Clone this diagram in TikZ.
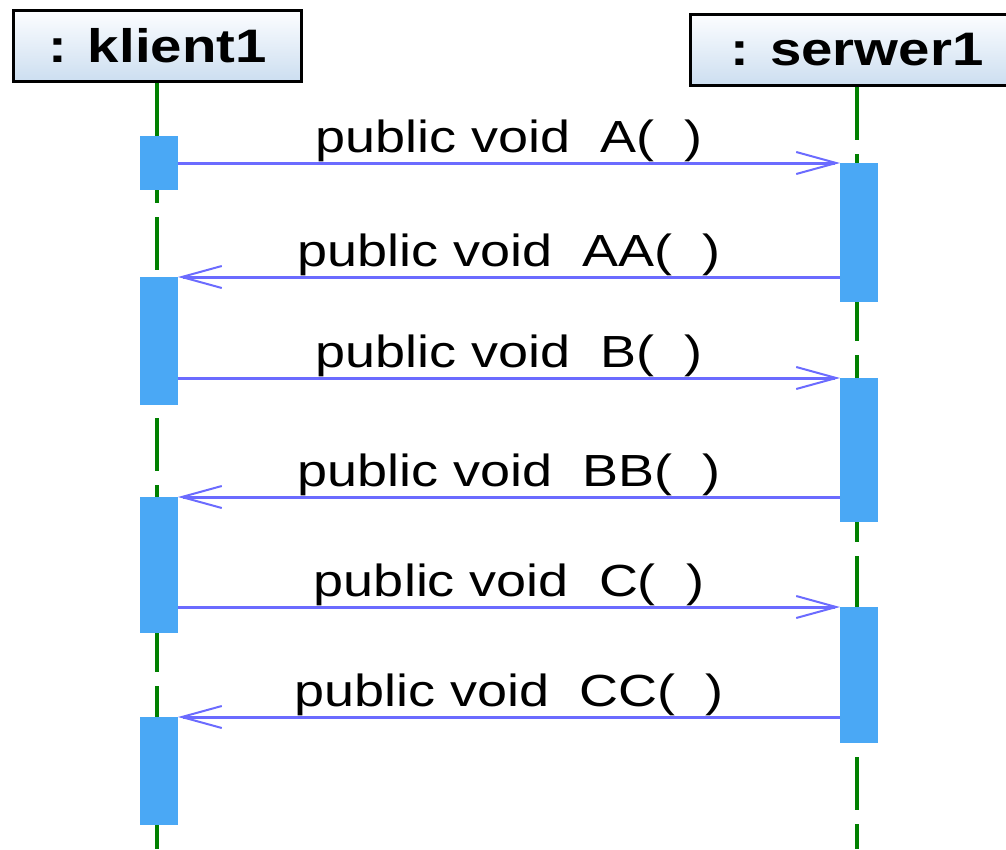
\documentclass[tikz,border=0pt]{standalone}
\usepackage{fontspec}
\usepackage{graphicx}
\setmainfont{Liberation Sans}
\usetikzlibrary{arrows.meta}

\definecolor{lifegreen}{RGB}{0,128,0}
\definecolor{barblue}{RGB}{74,168,245}
\definecolor{msgblue}{RGB}{107,107,255}
\definecolor{headtop}{RGB}{252,253,255}
\definecolor{headbot}{RGB}{204,222,240}

\newcommand{\wide}[1]{\scalebox{1.2}[1]{#1}}

\tikzset{
  objbox/.style={draw=black, line width=3pt, top color=headtop, bottom color=headbot,
    inner sep=0pt, minimum height=71pt, font=\fontsize{47}{50}\selectfont\bfseries},
  lifeline/.style={draw=lifegreen, line width=3.5pt, dash pattern=on 53pt off 14pt},
  actbar/.style={fill=barblue, draw=none, inner sep=0pt, outer sep=0pt, minimum width=38pt},
  msg/.style={draw=msgblue, line width=3pt,
    -{Straight Barb[length=40pt,width=22pt,line width=2pt]}},
  msglabel/.style={font=\fontsize{45}{50}\selectfont, anchor=base, yshift=11pt,
    inner sep=0pt, text=black},
}

\begin{document}
\begin{tikzpicture}[x=1pt,y=-1pt]
  \useasboundingbox (0,0) rectangle (1006,849);
  \clip (0,0) rectangle (1006,849);

  % object heads
  \node[objbox, minimum width=288pt] (kbox) at (157.5,46) {\wide{: klient1}};
  \node[objbox, minimum width=333pt] (sbox) at (857,50) {\wide{: serwer1}};

  % lifelines
  \coordinate (kend) at (157,849);
  \coordinate (send) at (857,849);
  \draw[lifeline] (kbox.south -| kend) -- (kend);
  \draw[lifeline] (sbox.south -| send) -- (send);

  % activation bars of klient1
  \node[actbar, minimum height=54pt]  (k1) at (159,163) {};
  \node[actbar, minimum height=128pt] (k2) at (159,341) {};
  \node[actbar, minimum height=136pt] (k3) at (159,565) {};
  \node[actbar, minimum height=108pt] (k4) at (159,771) {};

  % activation bars of serwer1
  \node[actbar, minimum height=139pt] (s1) at (859,232.5) {};
  \node[actbar, minimum height=144pt] (s2) at (859,450) {};
  \node[actbar, minimum height=136pt] (s3) at (859,675) {};

  % messages
  \draw[msg] (k1.east |- s1.north west) -- (s1.north west)
    node[midway, msglabel] {\wide{public void~~A(~~)}};
  \draw[msg] (s1.west |- k2.north east) -- (k2.north east)
    node[midway, msglabel] {\wide{public void~~AA(~~)}};
  \draw[msg] (k2.east |- s2.north west) -- (s2.north west)
    node[midway, msglabel] {\wide{public void~~B(~~)}};
  \draw[msg] (s2.west |- k3.north east) -- (k3.north east)
    node[midway, msglabel] {\wide{public void~~BB(~~)}};
  \draw[msg] (k3.east |- s3.north west) -- (s3.north west)
    node[midway, msglabel] {\wide{public void~~C(~~)}};
  \draw[msg] (s3.west |- k4.north east) -- (k4.north east)
    node[midway, msglabel] {\wide{public void~~CC(~~)}};
\end{tikzpicture}
\end{document}
